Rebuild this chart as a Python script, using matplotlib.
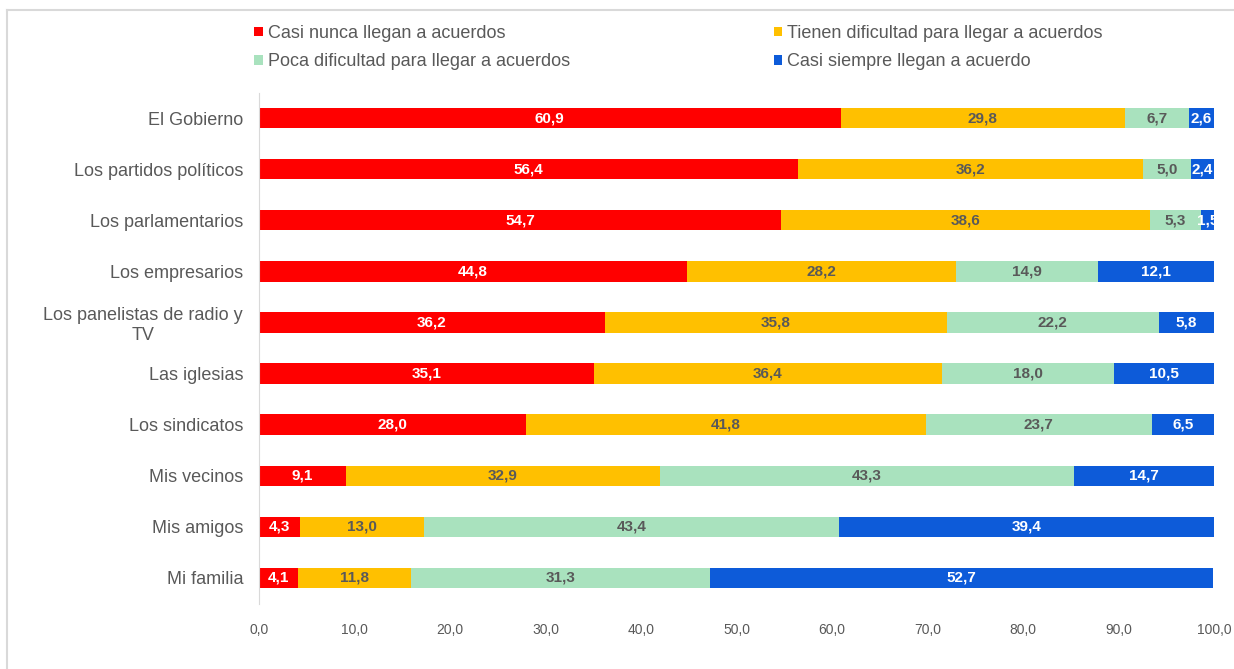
import matplotlib.pyplot as plt
from matplotlib.lines import Line2D

plt.rcParams['font.family'] = ['Liberation Sans', 'DejaVu Sans']

categories = ['El Gobierno', 'Los partidos políticos', 'Los parlamentarios',
              'Los empresarios', 'Los panelistas de radio y\nTV', 'Las iglesias',
              'Los sindicatos', 'Mis vecinos', 'Mis amigos', 'Mi familia']
series_names = ['Casi nunca llegan a acuerdos',
                'Tienen dificultad para llegar a acuerdos',
                'Poca dificultad para llegar a acuerdos',
                'Casi siempre llegan a acuerdo']
casi_nunca = [60.9, 56.4, 54.7, 44.8, 36.2, 35.1, 28.0, 9.1, 4.3, 4.1]
dificultad = [29.8, 36.2, 38.6, 28.2, 35.8, 36.4, 41.8, 32.9, 13.0, 11.8]
poca_dif = [6.7, 5.0, 5.3, 14.9, 22.2, 18.0, 23.7, 43.3, 43.4, 31.3]
casi_siempre = [2.6, 2.4, 1.5, 12.1, 5.8, 10.5, 6.5, 14.7, 39.4, 52.7]
xticks = [0, 10, 20, 30, 40, 50, 60, 70, 80, 90, 100]

colors = ['#FF0000', '#FFC000', '#A9E2BE', '#0D5BD9']
label_colors = ['white', '#595959', '#595959', 'white']
gray = '#595959'

fig = plt.figure(figsize=(12.34, 6.69), dpi=100)
ax = fig.add_axes([0.2099, 0.0979, 0.7739, 0.7638])

ypos = list(range(len(categories)))[::-1]
left = [0.0] * len(categories)
handles = []
for vals, col, lc, name in zip([casi_nunca, dificultad, poca_dif, casi_siempre],
                               colors, label_colors, series_names):
    bars = ax.barh(ypos, vals, left=left, height=0.4, color=col, label=name)
    ax.bar_label(bars, labels=[f'{v:.1f}'.replace('.', ',') for v in vals],
                 label_type='center', color=lc, fontsize=11, fontweight='bold')
    handles.append(bars)
    left = [a + b for a, b in zip(left, vals)]

ax.set_xlim(0, 100)
ax.set_ylim(-0.5, len(categories) - 0.5)
ax.set_xticks(xticks)
ax.set_xticklabels([f'{t:.1f}'.replace('.', ',') for t in xticks])
ax.set_yticks(ypos)
ax.set_yticklabels(categories, ma='center')
ax.tick_params(axis='y', length=0, pad=11.5, labelsize=13, labelcolor=gray)
ax.tick_params(axis='x', length=0, pad=14, labelsize=10, labelcolor=gray)
for s in ['top', 'right', 'bottom']:
    ax.spines[s].set_visible(False)
ax.spines['left'].set_color('#D9D9D9')

# legend: row 1 red / yellow, row 2 green / blue
order = [0, 2, 1, 3]
fig.legend([handles[i] for i in order], [series_names[i] for i in order],
           ncol=2, loc='upper left', bbox_to_anchor=(0.193, 0.987),
           frameon=False, fontsize=13, labelcolor=gray,
           handlelength=0.45, handleheight=0.45, handletextpad=0.28,
           columnspacing=11.3, labelspacing=0.62)

# chart frame lines (top and left)
fig.add_artist(Line2D([0.006, 1.0], [0.985, 0.985], color='#D9D9D9', lw=1.5))
fig.add_artist(Line2D([0.006, 0.006], [0.0, 0.985], color='#D9D9D9', lw=1.5))

fig.savefig('out.png', dpi=100)
